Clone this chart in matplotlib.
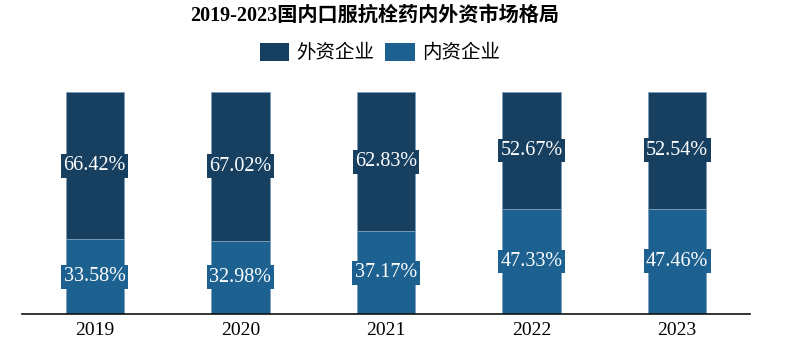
import matplotlib
matplotlib.use("Agg")
import matplotlib.pyplot as plt
from matplotlib.patches import Patch

years = ["2019", "2020", "2021", "2022", "2023"]
foreign = [66.42, 67.02, 62.83, 52.67, 52.54]
domestic = [33.58, 32.98, 37.17, 47.33, 47.46]
series_names = ["外资企业", "内资企业"]
title = "2019-2023国内口服抗栓药内外资市场格局"

c_dark = "#163f60"
c_blue = "#1d6191"

plt.rcParams['font.family'] = ['Liberation Serif', 'Noto Sans CJK SC', 'DejaVu Sans']

fig = plt.figure(figsize=(7.85, 3.51), dpi=100)
ax = fig.add_axes([22/785, 1 - 314/351, (750-22)/785, (314-92)/351])

x = list(range(len(years)))
w = 0.4
ax.bar(x, domestic, width=w, color=c_blue, edgecolor="#7f9fbb", linewidth=0.6)
ax.bar(x, foreign, bottom=domestic, width=w, color=c_dark, edgecolor="#7f9fbb", linewidth=0.6)

for i in x:
    ax.text(i, domestic[i] / 2, f"{domestic[i]:.2f}%", ha="center", va="center",
            color="white", fontsize=14.5, family="Liberation Serif",
            bbox=dict(boxstyle="square,pad=0.12", fc=c_blue, ec="none"))
    ax.text(i, domestic[i] + foreign[i] / 2, f"{foreign[i]:.2f}%", ha="center", va="center",
            color="white", fontsize=14.5, family="Liberation Serif",
            bbox=dict(boxstyle="square,pad=0.12", fc=c_dark, ec="none"))

ax.set_xlim(-0.5, len(years) - 0.5)
ax.set_ylim(0, 100)
ax.set_xticks(x)
ax.set_xticklabels(years, fontsize=14, family="Liberation Serif")
ax.tick_params(axis="x", length=0, pad=6)
ax.set_yticks([])
for s in ["top", "right", "left"]:
    ax.spines[s].set_visible(False)
ax.spines["bottom"].set_linewidth(1.2)
ax.spines["bottom"].set_color("#111111")

fig.text(375/785, 1 - 16/351, title, ha="center", va="center", fontsize=14.5,
         weight="bold", family=['Liberation Serif', 'Noto Sans CJK SC'])

handles = [Patch(facecolor=c_dark), Patch(facecolor=c_blue)]
leg = fig.legend(handles, series_names, loc="center", bbox_to_anchor=(380/785, 1 - 53/351),
                 ncol=2, frameon=False, prop={'family': 'Noto Sans CJK SC', 'size': 14},
                 handlelength=1.5, handleheight=1.05, handletextpad=0.4, columnspacing=0.55)

fig.savefig("out.png", dpi=100)
